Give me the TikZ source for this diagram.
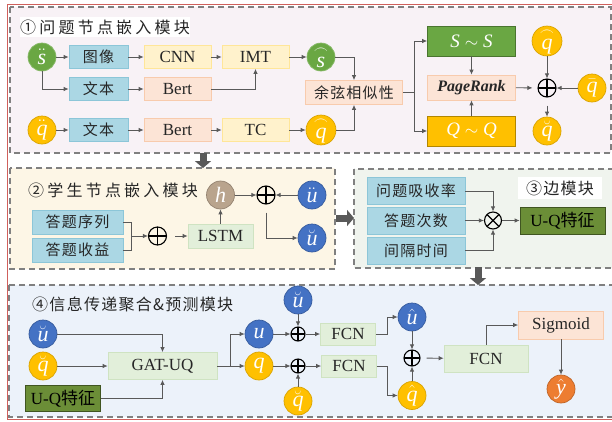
\documentclass[tikz,border=0pt]{standalone}
\usepackage{fontspec}
\usepackage{amsmath}
\setmainfont{Liberation Serif}
\newfontfamily\cjk{Noto Sans CJK SC}
\newfontfamily\cjkwide[LetterSpace=20]{Noto Sans CJK SC}
\newfontfamily\cjkmid[LetterSpace=8]{Noto Sans CJK SC}
\usetikzlibrary{arrows.meta}

\definecolor{lineG}{HTML}{595959}
\definecolor{dashG}{HTML}{808080}
\definecolor{frameR}{HTML}{D0605C}
\definecolor{bgOne}{HTML}{F8F2F6}
\definecolor{bgTwo}{HTML}{FDF6E6}
\definecolor{bgThree}{HTML}{F0F4EE}
\definecolor{bgFour}{HTML}{ECF2FA}
\definecolor{fBlue}{HTML}{ABD7E4}
\definecolor{dBlue}{HTML}{8CC6D8}
\definecolor{fYel}{HTML}{FFF2CC}
\definecolor{dYel}{HTML}{FFE699}
\definecolor{fPeach}{HTML}{FCE4D6}
\definecolor{dPeach}{HTML}{F8CBAD}
\definecolor{fLGreen}{HTML}{E2EFDA}
\definecolor{dLGreen}{HTML}{CFE3C2}
\definecolor{cGreen}{HTML}{6AA743}
\definecolor{cGold}{HTML}{FFC000}
\definecolor{cBlue}{HTML}{4472C4}
\definecolor{cBrown}{HTML}{B9A48D}
\definecolor{cOrange}{HTML}{ED7D31}
\definecolor{cOlive}{HTML}{6B8E37}

\begin{document}
\begin{tikzpicture}[x=1pt,y=-1pt,
  >={Latex[length=5pt,width=4.5pt]},
  arr/.style={draw=lineG,line width=0.8pt,->},
  ln/.style={draw=lineG,line width=0.8pt},
  panel/.style={draw=dashG,dash pattern=on 6pt off 4pt,line width=1.1pt},
  bigarr/.style={draw=lineG,line width=7pt,-{Triangle[length=7pt,width=16pt]}},
  box/.style={draw,line width=0.7pt,inner sep=0pt,minimum height=23,text=black!85,font=\fontsize{17}{17}\selectfont},
  zh/.style={font=\cjkmid\fontsize{15}{15}\selectfont},
  bluebox/.style={box,fill=fBlue,draw=dBlue},
  yelbox/.style={box,fill=fYel,draw=dYel},
  peachbox/.style={box,fill=fPeach,draw=dPeach},
  greenbox/.style={box,fill=fLGreen,draw=dLGreen},
  olivebox/.style={box,fill=cOlive,draw=cOlive!60!black,text=black},
  ball/.style={circle,minimum size=28,inner sep=0pt,line width=0.7pt,text=white,font=\fontsize{22}{22}\selectfont},
  gball/.style={ball,fill=cGreen,draw=cGreen!80!white},
  yball/.style={ball,fill=cGold,draw=cGold!85!black},
  bball/.style={ball,fill=cBlue,draw=cBlue!80!black},
  plusop/.style={circle,draw=black,line width=1.1pt,minimum size=18,inner sep=0pt,
    path picture={\draw[line width=1.1pt] (path picture bounding box.north)--(path picture bounding box.south)
      (path picture bounding box.west)--(path picture bounding box.east);}},
  timesop/.style={circle,draw=black,line width=1.1pt,minimum size=17,inner sep=0pt,
    path picture={\draw[line width=1.1pt] (path picture bounding box.north west)--(path picture bounding box.south east)
      (path picture bounding box.south west)--(path picture bounding box.north east);}},
  title/.style={anchor=west,inner sep=0pt,text=black!85,font=\cjkwide\fontsize{16}{16}\selectfont}]

\useasboundingbox (0,0) rectangle (612,421);
\draw[frameR,line width=0.8pt] (7,4) rectangle (618,419);

\filldraw[panel,fill=bgOne] (10,7) rectangle (611,153);
\filldraw[panel,fill=bgTwo] (10,168) rectangle (335,269);
\filldraw[panel,fill=bgThree] (354,169) rectangle (620,268);
\filldraw[panel,fill=bgFour] (9,285) rectangle (620,417);

\coordinate (dnAtop) at (203,153);
\coordinate (dnAbot) at (203,168);
\coordinate (rtAl) at (336,218);
\coordinate (rtAr) at (354,218);
\coordinate (dnBtop) at (478,267);
\coordinate (dnBbot) at (478,285);
\draw[bigarr] (dnAtop) -- (dnAbot);
\draw[bigarr] (rtAl) -- (rtAr);
\draw[bigarr] (dnBtop) -- (dnBbot);

\node[title,fill=white,anchor=center,minimum width=170,minimum height=20] (tOne) at (105,27) {①问题节点嵌入模块};
\node[gball] (sA) at (42,57) {$\ddot{\mathit{s}}$};
\node[bluebox,zh,minimum width=59] (imgA) at (98.5,57) {图像};
\node[yelbox,minimum width=67] (cnnA) at (177.5,57) {CNN};
\node[yelbox,minimum width=67] (imtA) at (255.5,57) {IMT};
\node[gball] (sB) at (321,57) {$\overset{\frown}{\mathit{s}}$};
\node[bluebox,zh,minimum width=59] (txtA) at (98.5,89) {文本};
\node[peachbox,minimum width=67] (bertA) at (177.5,89) {Bert};
\node[yball] (qA) at (42,130) {$\ddot{\mathit{q}}$};
\node[bluebox,zh,minimum width=59] (txtB) at (98.5,130) {文本};
\node[peachbox,minimum width=67] (bertB) at (177.5,130) {Bert};
\node[yelbox,minimum width=67] (tcA) at (255.5,130) {TC};
\node[yball] (qB) at (321,130) {$\overset{\frown}{\mathit{q}}$};
\node[peachbox,zh,minimum width=97,minimum height=24] (cosA) at (354,92.5) {余弦相似性};
\coordinate (cosR) at (414,92.5);
\node[box,fill=cGreen,draw=cGreen!70!black,minimum width=88,minimum height=30,text=white,font=\fontsize{19}{19}\selectfont] (ssA) at (471.5,41) {$\mathit{S}\sim\mathit{S}$};
\node[box,fill=cGold,draw=cGold!70!black,minimum width=88,minimum height=30,text=white,font=\fontsize{19}{19}\selectfont] (qqA) at (471.5,131) {$\mathit{Q}\sim\mathit{Q}$};
\node[peachbox,minimum width=88,minimum height=25,font=\bfseries\itshape\fontsize{16}{16}\selectfont] (prA) at (471.5,87.5) {PageRank};
\node[plusop] (pA) at (547,88) {};
\node[yball] (qC) at (547,41) {$\overset{\frown}{\mathit{q}}$};
\node[yball] (qD) at (592,88) {$\bar{\mathit{q}}$};
\node[yball] (qE) at (547,131) {$\breve{\mathit{q}}$};

\draw[arr] (sA) -- (imgA);
\draw[arr] (imgA) -- (cnnA);
\draw[arr] (cnnA) -- (imtA);
\draw[arr] (imtA) -- (sB);
\draw[arr] (sA) |- (txtA);
\draw[arr] (txtA) -- (bertA);
\draw[arr] (bertA) -| (imtA);
\draw[arr] (qA) -- (txtB);
\draw[arr] (txtB) -- (bertB);
\draw[arr] (bertB) -- (tcA);
\draw[arr] (tcA) -- (qB);
\draw[arr] (sB) -| (cosA);
\draw[arr] (qB) -| (cosA);
\draw[ln] (cosA) -- (cosR);
\draw[arr] (cosR) |- (ssA);
\draw[arr] (cosR) |- (qqA);
\draw[arr] (ssA) -- (prA);
\draw[arr] (qqA) -- (prA);
\draw[arr,shorten >=5pt] (prA) -- (pA);
\draw[arr] (qC) -- (pA);
\draw[arr] (qD) -- (pA);
\draw[arr,shorten <=8pt] (pA) -- (qE);

\node[title] (tTwo) at (28,190) {②学生节点嵌入模块};
\node[bluebox,zh,minimum width=91,minimum height=24] (seqA) at (77.5,222) {答题序列};
\node[bluebox,zh,minimum width=91,minimum height=24] (gainA) at (77.5,250) {答题收益};
\coordinate (brkA) at (131,236);
\node[plusop] (pB) at (157.5,236) {};
\node[greenbox,minimum width=65,minimum height=24] (lstmA) at (220.5,236) {LSTM};
\node[ball,fill=cBrown,draw=cBrown!80!black] (hA) at (220.5,195) {$\mathit{h}$};
\node[plusop] (pC) at (266,195) {};
\node[bball] (uA) at (312,195) {$\ddot{\mathit{u}}$};
\node[bball] (uB) at (312,238) {$\breve{\mathit{u}}$};

\draw[ln] (seqA) -| (brkA);
\draw[ln] (gainA) -| (brkA);
\draw[arr] (brkA) -- (pB);
\draw[arr,shorten <=8pt] (pB) -- (lstmA);
\draw[arr] (lstmA) -- (hA);
\draw[arr] (hA) -- (pC);
\draw[arr] (uA) -- (pC);
\draw[arr,shorten <=8pt] (pC) |- (uB);

\node[title,font=\cjkmid\fontsize{16}{16}\selectfont,fill=white,anchor=center,minimum width=84,minimum height=22] (tThree) at (560,188) {③边模块};
\node[bluebox,zh,minimum width=98,minimum height=27] (absA) at (416,191) {问题吸收率};
\node[bluebox,zh,minimum width=98,minimum height=27] (cntA) at (416,220.5) {答题次数};
\node[bluebox,zh,minimum width=98,minimum height=27] (gapA) at (416,250.5) {间隔时间};
\node[timesop] (xA) at (493,220.5) {};
\node[olivebox,minimum width=85,minimum height=27] (uqA) at (562.5,220.5) {U-Q{\cjk 特征}};

\draw[arr] (absA) -| (xA);
\draw[arr] (cntA) -- (xA);
\draw[arr] (gapA) -| (xA);
\draw[arr] (xA) -- (uqA);

\node[title,font=\cjkmid\fontsize{16}{16}\selectfont] (tFour) at (32,304) {④信息传递聚合\&预测模块};
\node[bball] (uC) at (43,334) {$\breve{\mathit{u}}$};
\node[yball] (qF) at (43,366) {$\breve{\mathit{q}}$};
\node[olivebox,minimum width=75,minimum height=26] (uqB) at (63,398.5) {U-Q{\cjk 特征}};
\node[greenbox,minimum width=109,minimum height=27] (gatA) at (162.5,366) {GAT-UQ};
\coordinate (gatR) at (230,366);
\node[bball] (uD) at (259,334) {$\mathit{u}$};
\node[yball] (qG) at (259,366) {$\mathit{q}$};
\node[plusop,minimum size=14] (pD) at (298,334) {};
\node[plusop,minimum size=14] (pE) at (298,366) {};
\node[bball] (uE) at (298,300) {$\breve{\mathit{u}}$};
\node[yball] (qH) at (298,401) {$\breve{\mathit{q}}$};
\node[greenbox,minimum width=55,minimum height=22] (fcnA) at (348,334) {FCN};
\node[greenbox,minimum width=55,minimum height=22] (fcnB) at (349,366) {FCN};
\coordinate (fcnAR) at (387,334);
\coordinate (fcnBR) at (387,366);
\node[bball] (uF) at (412,317) {$\hat{\mathit{u}}$};
\node[yball] (qI) at (412,395.5) {$\hat{\mathit{q}}$};
\node[plusop,minimum size=16] (pF) at (412,358) {};
\node[greenbox,minimum width=84,minimum height=27] (fcnC) at (486,358.5) {FCN};
\node[peachbox,minimum width=85,minimum height=28] (sigA) at (561,325) {Sigmoid};
\node[ball,fill=cOrange,draw=cOrange!80!black] (yA) at (561,389) {$\hat{\mathit{y}}$};

\draw[arr] (uC) -| (gatA);
\draw[arr] (qF) -- (gatA);
\draw[arr] (uqB) -| (gatA);
\draw[arr] (gatA) -- (qG);
\draw[arr] (gatR) |- (uD);
\draw[arr] (uD) -- (pD);
\draw[arr] (qG) -- (pE);
\draw[arr] (uE) -- (pD);
\draw[arr] (qH) -- (pE);
\draw[arr] (pD) -- (fcnA);
\draw[arr] (pE) -- (fcnB);
\draw[arr] (fcnA) -- (fcnAR) |- (uF);
\draw[arr] (fcnB) -- (fcnBR) |- (qI);
\draw[arr] (uF) -- (pF);
\draw[arr] (qI) -- (pF);
\draw[arr,shorten <=6pt] (pF) -- (fcnC);
\draw[arr] (fcnC) |- (sigA);
\draw[arr] (sigA) -- (yA);

\end{tikzpicture}
\end{document}
